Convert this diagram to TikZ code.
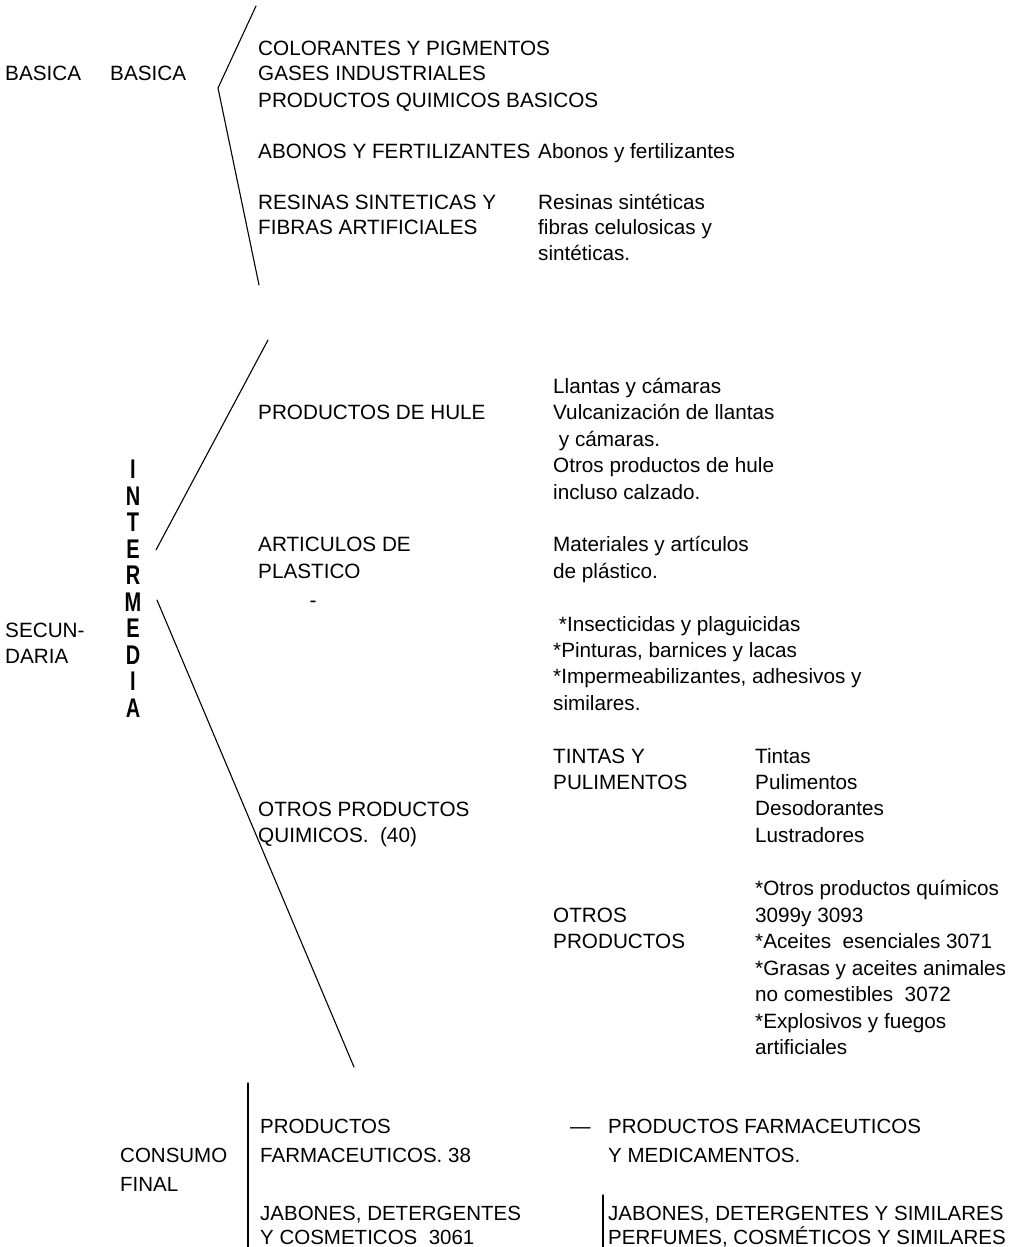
\documentclass[tikz,border=0pt]{standalone}
\usepackage{fontspec}
\setmainfont{Liberation Sans}
\begin{document}
\begin{tikzpicture}[x=1pt,y=-1pt,
  txt/.style={anchor=base west, inner sep=0pt, font=\fontsize{20.7}{25}\selectfont},
  btxt/.style={anchor=base west, inner sep=0pt, font=\fontsize{20.5}{25}\selectfont},
  vlet/.style={anchor=center, inner sep=0pt, font=\fontsize{20}{25}\selectfont\bfseries},
  ln/.style={line width=1.1pt, line cap=round}]
\useasboundingbox (0,0) rectangle (1021,1247);
% ---------- BASICA ----------
\node[txt] (bas1) at (5,81) {BASICA};
\node[txt] (bas2) at (110,81) {BASICA};
\coordinate (bt) at (256,6);
\coordinate (bv) at (218,88);
\coordinate (bb) at (259,285);
\draw[ln] (bt) -- (bv) -- (bb);
\node[txt] (col) at (258,56) {COLORANTES Y PIGMENTOS};
\node[txt] (gas) at (258,81) {GASES INDUSTRIALES};
\node[txt] (pqb) at (258,107) {PRODUCTOS QUIMICOS BASICOS};
\node[txt] (abo) at (258,158) {ABONOS Y FERTILIZANTES};
\node[txt] (abod) at (538,158) {Abonos y fertilizantes};
\node[txt] (res1) at (258,209) {RESINAS SINTETICAS Y};
\node[txt] (res2) at (258,234) {FIBRAS ARTIFICIALES};
\node[txt] (resd1) at (538,209) {Resinas sintéticas};
\node[txt] (resd2) at (538,234) {fibras celulosicas y};
\node[txt] (resd3) at (538,260) {sintéticas.};
% ---------- SECUNDARIA / INTERMEDIA ----------
\node[txt] (sec1) at (5,637) {SECUN-};
\node[txt] (sec2) at (5,663) {DARIA};
\foreach \l [count=\i] in {I,N,T,E,R,M,E,D,I,A}
  \node[vlet] (int\i) at (133,443+26.5*\i) {\scalebox{1}[1.35]{\l}};
\coordinate (ut) at (268,340);
\coordinate (ub) at (156,550);
\draw[ln] (ut) -- (ub);
\coordinate (lt) at (157,600);
\coordinate (lb) at (354,1067);
\draw[ln] (lt) -- (lb);
\node[txt] (hule) at (258,419) {PRODUCTOS DE HULE};
\node[txt] (h1) at (553,393) {Llantas y cámaras};
\node[txt] (h2) at (553,419) {Vulcanización de llantas};
\node[txt] (h3) at (553,446) {\ y cámaras.};
\node[txt] (h4) at (553,472) {Otros productos de hule};
\node[txt] (h5) at (553,499) {incluso calzado.};
\node[txt] (pl1) at (258,551) {ARTICULOS DE};
\node[txt] (pl2) at (258,578) {PLASTICO};
\node[txt] (pd1) at (553,551) {Materiales y artículos};
\node[txt] (pd2) at (553,578) {de plástico.};
\node[anchor=center, inner sep=0pt, font=\fontsize{21}{25}\selectfont] (dash) at (313,604) {-};
\node[txt] (q1) at (553,631) {\ *Insecticidas y plaguicidas};
\node[txt] (q2) at (553,657) {*Pinturas, barnices y lacas};
\node[txt] (q3) at (553,683) {*Impermeabilizantes, adhesivos y};
\node[txt] (q4) at (553,710) {similares.};
\node[txt] (tp1) at (553,763) {TINTAS Y};
\node[txt] (tp2) at (553,789) {PULIMENTOS};
\node[txt] (td1) at (755,763) {Tintas};
\node[txt] (td2) at (755,789) {Pulimentos};
\node[txt] (td3) at (755,815) {Desodorantes};
\node[txt] (td4) at (755,842) {Lustradores};
\node[txt] (opq1) at (258,816) {OTROS PRODUCTOS};
\node[txt] (opq2) at (258,842) {QUIMICOS.\ \ (40)};
\node[txt] (op1) at (553,922) {OTROS};
\node[txt] (op2) at (553,948) {PRODUCTOS};
\node[txt] (od1) at (755,895) {*Otros productos químicos};
\node[txt] (od2) at (755,922) {3099y 3093};
\node[txt] (od3) at (755,948) {*Aceites\ \ esenciales 3071};
\node[txt] (od4) at (755,975) {*Grasas y aceites animales};
\node[txt] (od5) at (755,1001) {no comestibles\ \ 3072};
\node[txt] (od6) at (755,1028) {*Explosivos y fuegos};
\node[txt] (od7) at (755,1054) {artificiales};
% ---------- CONSUMO FINAL ----------
\coordinate (cvt) at (248,1083);
\coordinate (cvb) at (248,1247);
\draw[ln] (cvt) -- (cvb);
\node[btxt] (cf1) at (120,1162) {CONSUMO};
\node[btxt] (cf2) at (120,1191) {FINAL};
\node[btxt] (pf1) at (260,1133) {PRODUCTOS};
\node[btxt] (pf2) at (260,1162) {FARMACEUTICOS. 38};
\node[btxt] (pfdash) at (570,1133) {—};
\node[btxt] (pfd1) at (608,1133) {PRODUCTOS FARMACEUTICOS};
\node[btxt] (pfd2) at (608,1162) {Y MEDICAMENTOS.};
\node[btxt] (jb1) at (260,1220) {JABONES, DETERGENTES};
\node[btxt] (jb2) at (260,1244) {Y COSMETICOS\ \ 3061};
\coordinate (jvt) at (603,1195);
\coordinate (jvb) at (603,1247);
\draw[ln] (jvt) -- (jvb);
\node[btxt] (jbd1) at (608,1220) {JABONES, DETERGENTES Y SIMILARES};
\node[btxt] (jbd2) at (608,1244) {PERFUMES, COSMÉTICOS Y SIMILARES};
\end{tikzpicture}
\end{document}
